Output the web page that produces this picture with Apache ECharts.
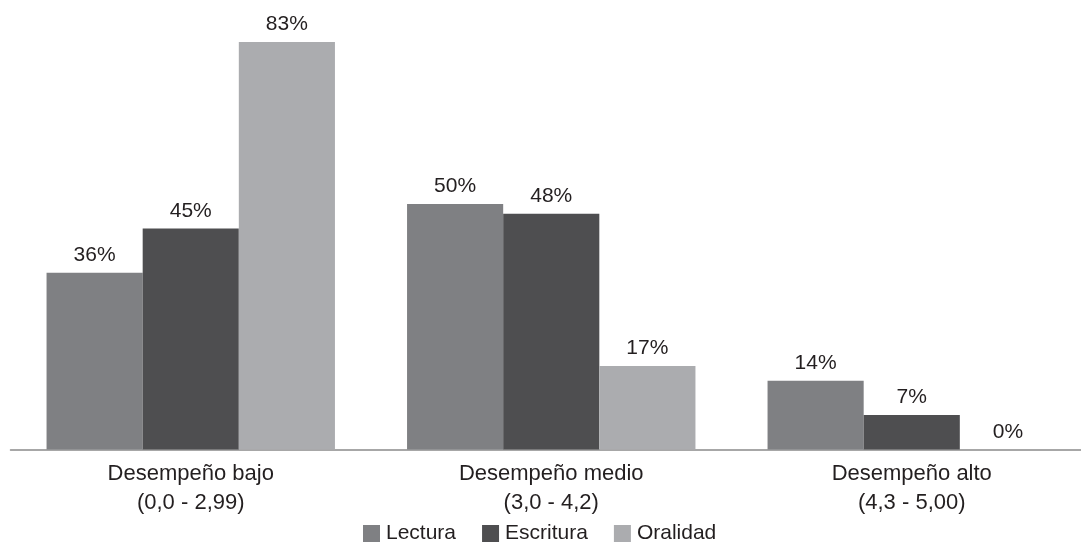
<!DOCTYPE html>
<html>
<head>
<meta charset="utf-8">
<script src="https://cdn.jsdelivr.net/npm/echarts@6/dist/echarts.min.js"></script>
<style>
  html, body { margin: 0; padding: 0; background: #ffffff; overflow: hidden; }
  /* the canvas is a bit wider than the page, so the axis line runs off the right edge */
  #chart { width: 1092px; height: 543px; }
</style>
</head>
<body>
<div id="chart"></div>
<script>
// Performance bands and the share of students in each skill
const categories = [
  'Desempeño bajo\n(0,0 - 2,99)',
  'Desempeño medio\n(3,0 - 4,2)',
  'Desempeño alto\n(4,3 - 5,00)'
];
const seriesNames = ['Lectura', 'Escritura', 'Oralidad'];
const lectura = [36, 50, 14];
const escritura = [45, 48, 7];
const oralidad = [83, 17, 0];

const colors = ['#7f8083', '#4e4e50', '#abacaf'];
const textColor = '#231f20';
const fontFamily = '"Liberation Sans", Arial, Helvetica, sans-serif';

const values = [lectura, escritura, oralidad];

const chart = echarts.init(document.getElementById('chart'), null, { renderer: 'canvas' });

chart.setOption({
  animation: false,
  backgroundColor: '#ffffff',
  textStyle: { fontFamily: fontFamily, color: textColor },
  grid: { left: 10.5, right: 0, top: 7.5, bottom: 93.5, containLabel: false },
  legend: {
    data: seriesNames,
    left: 363,
    top: 523,
    padding: 0,
    icon: 'rect',
    itemWidth: 17,
    itemHeight: 17,
    itemGap: 26,
    textStyle: { fontFamily: fontFamily, fontSize: 21, color: textColor, padding: [0, 0, 0, 1] }
  },
  xAxis: {
    type: 'category',
    data: categories,
    axisLine: { show: true, lineStyle: { color: '#8a8a8a', width: 1.5 } },
    axisTick: { show: false },
    axisLabel: {
      margin: 10,
      fontFamily: fontFamily,
      fontSize: 22,
      lineHeight: 29,
      color: textColor,
      interval: 0
    }
  },
  yAxis: {
    type: 'value',
    min: 0,
    max: 90,
    show: false,
    splitLine: { show: false }
  },
  series: seriesNames.map((name, i) => ({
    name: name,
    type: 'bar',
    data: values[i],
    barGap: '0%',
    barCategoryGap: '20%',
    itemStyle: { color: colors[i] },
    label: {
      show: true,
      position: 'top',
      distance: 7,
      formatter: '{c}%',
      fontFamily: fontFamily,
      fontSize: 21,
      color: textColor
    }
  }))
});
</script>
</body>
</html>
